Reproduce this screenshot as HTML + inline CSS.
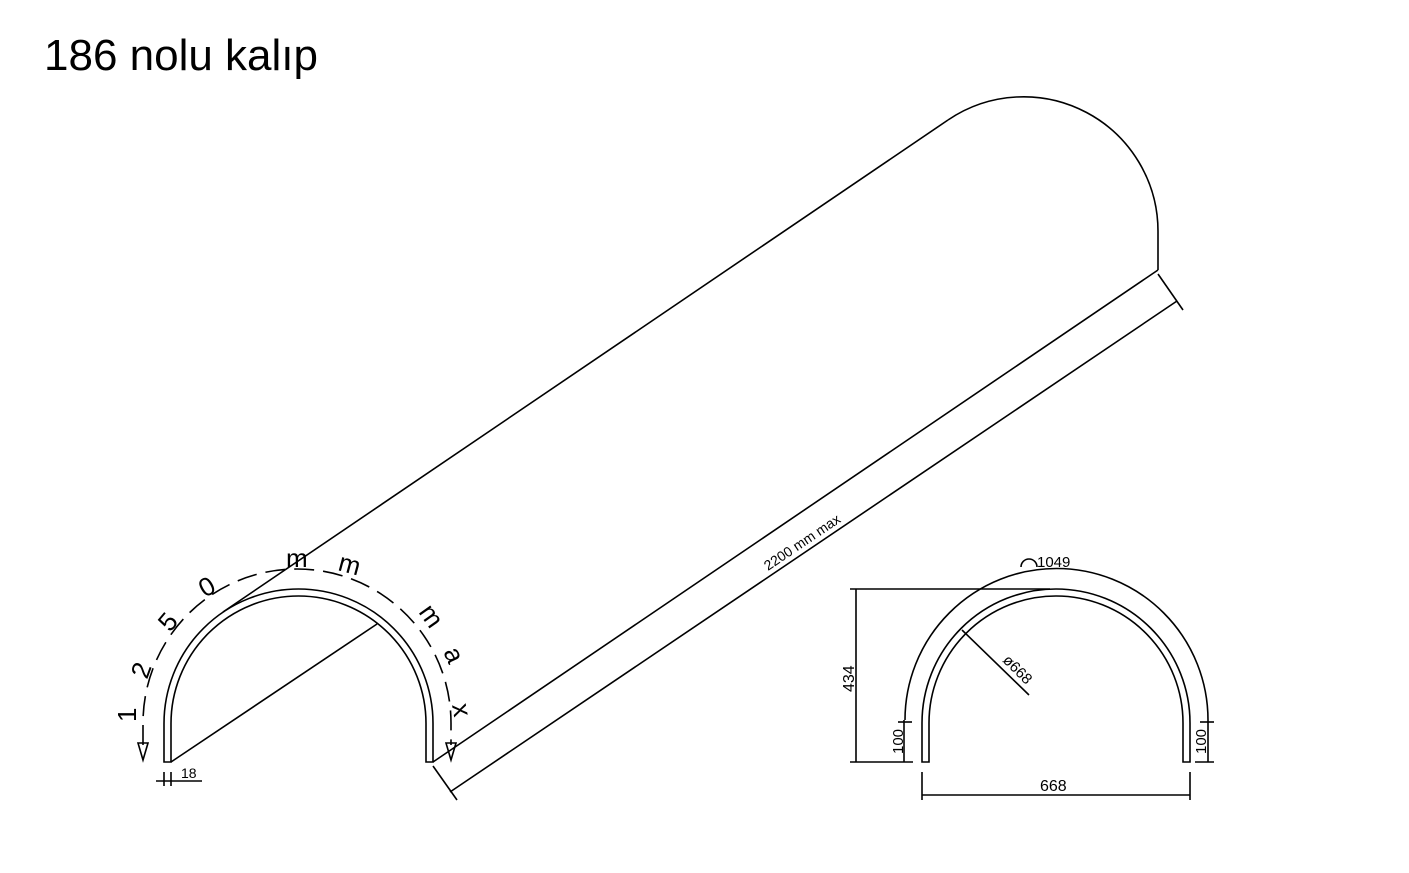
<!DOCTYPE html>
<html><head><meta charset="utf-8"><style>
body{margin:0;background:#fff;width:1409px;height:873px;overflow:hidden}
svg{position:absolute;left:0;top:0}
text{font-family:"Liberation Sans",sans-serif}
</style></head><body>
<svg width="1409" height="873" viewBox="0 0 1409 873" fill="none" stroke="#000" stroke-width="1.6">
<text x="44" y="70" font-size="44" fill="#000" stroke="none">186 nolu kalıp</text>
<!-- front arch -->
<path d="M164 762 V723.5 A134.5 134.5 0 0 1 433 723.5 V762 H426 V723.5 A127.5 127.5 0 0 0 171 723.5 V762 Z"/>
<!-- long lines -->
<line x1="223" y1="612" x2="948" y2="120"/>
<line x1="433" y1="762" x2="1158" y2="270"/>
<line x1="171" y1="762" x2="377" y2="624"/>
<path d="M948 120 A134.5 134.5 0 0 1 1158 231.5 V270"/>
<!-- 2200 dim -->
<line x1="433" y1="766" x2="457" y2="800"/>
<line x1="1158" y1="274" x2="1183" y2="310"/>
<line x1="450" y1="792" x2="1177" y2="301"/>
<text x="0" y="0" font-size="14" fill="#000" stroke="none" transform="translate(768,571) rotate(-34)">2200 mm max</text>
<!-- dashed arc -->
<path d="M143 745 V723 A154 154 0 0 1 451 723 V745" stroke-dasharray="20 9"/>
<path d="M138 743 L143 760 L148 743 Z"/>
<path d="M446 743 L451 760 L456 743 Z"/>
<g font-size="26" fill="#000" stroke="none" font-family="Liberation Sans">
<text transform="translate(136,722) rotate(-90)">1</text>
<text transform="translate(147,680) rotate(-70)">2</text>
<text transform="translate(170,633) rotate(-50)">5</text>
<text transform="translate(205,598) rotate(-30)">0</text>
<text transform="translate(286,567) rotate(0)">m</text>
<text transform="translate(337,570) rotate(15)">m</text>
<text transform="translate(418,612) rotate(55)">m</text>
<text transform="translate(443,652) rotate(65)">a</text>
<text transform="translate(452,705) rotate(80)">x</text>
</g>
<!-- 18 dim -->
<line x1="156" y1="781" x2="202" y2="781"/>
<line x1="164" y1="772" x2="164" y2="786"/>
<line x1="171" y1="772" x2="171" y2="786"/>
<text x="181" y="778" font-size="14" fill="#000" stroke="none">18</text>
<!-- right drawing -->
<path d="M905 720 A151.5 151.5 0 0 1 1208 720"/>
<path d="M922 762 V723 A134 134 0 0 1 1190 723 V762 H1183 V723 A127 127 0 0 0 929 723 V762 Z"/>
<line x1="850" y1="589" x2="1050" y2="589"/>
<line x1="850" y1="762" x2="913" y2="762"/>
<line x1="856" y1="589" x2="856" y2="762"/>
<text transform="translate(854,692) rotate(-90)" font-size="16" fill="#000" stroke="none">434</text>
<line x1="904" y1="720" x2="904" y2="762"/>
<line x1="898" y1="722" x2="912" y2="722"/>
<text transform="translate(903,754) rotate(-90)" font-size="15" fill="#000" stroke="none">100</text>
<line x1="1208" y1="720" x2="1208" y2="762"/>
<line x1="1200" y1="722" x2="1214" y2="722"/>
<line x1="1195" y1="762" x2="1214" y2="762"/>
<text transform="translate(1206,754) rotate(-90)" font-size="15" fill="#000" stroke="none">100</text>
<line x1="962" y1="630" x2="1029" y2="695"/>
<text transform="translate(1002,661) rotate(45)" font-size="15" fill="#000" stroke="none">ø668</text>
<path d="M1021 567 A8 8 0 0 1 1037 567"/>
<text x="1037" y="567" font-size="15" fill="#000" stroke="none">1049</text>
<line x1="922" y1="772" x2="922" y2="800"/>
<line x1="1190" y1="772" x2="1190" y2="800"/>
<line x1="922" y1="795" x2="1190" y2="795"/>
<text x="1040" y="791" font-size="16" fill="#000" stroke="none">668</text>
</svg>
</body></html>
